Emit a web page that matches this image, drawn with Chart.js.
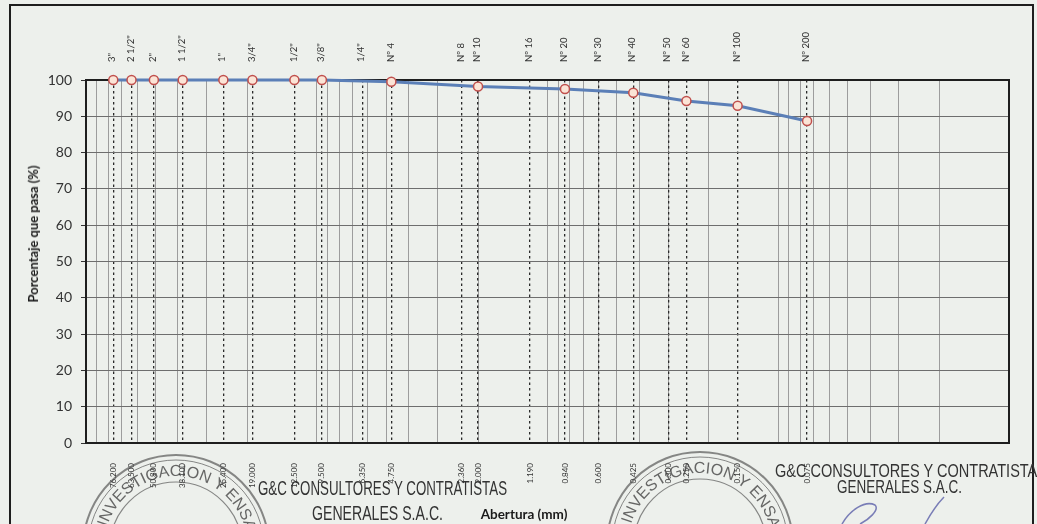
<!DOCTYPE html>
<html>
<head>
<meta charset="utf-8">
<title>Curva granulométrica</title>
<script src="https://cdn.jsdelivr.net/npm/chart.js@4.4.1/dist/chart.umd.min.js"></script>
<style>
  html, body { margin: 0; padding: 0; }
  body {
    width: 1037px; height: 524px; overflow: hidden; position: relative;
    background: #edf0ec; font-family: Lato, "Open Sans", sans-serif;
  }
  #frame {
    position: absolute; left: 9px; top: 4px; width: 1021px; height: 600px;
    border: 2px solid #1e1e1e; border-bottom: none;
  }
  #chart { position: absolute; left: 0; top: 0; }
  .axis-title { position: absolute; font-weight: bold; font-size: 13px; color: #1a1a1a; white-space: nowrap; }
  #yTitle { left: 33px; top: 234px; transform: translate(-50%, -50%) rotate(-90deg); }
  #xTitle { left: 524px; top: 514px; transform: translate(-50%, -50%); font-size: 13.5px; }
  #marks { position: absolute; left: 0; top: 0; pointer-events: none; }
</style>
</head>
<body>
<div id="frame"></div>
<canvas id="chart" width="1037" height="524"></canvas>
<div class="axis-title" id="yTitle">Porcentaje que pasa (%)</div>
<div class="axis-title" id="xTitle">Abertura (mm)</div>

<svg id="marks" width="1037" height="524">
  <defs>
    <path id="arcL" d="M 104,548 A 72,72 0 0 1 248,548"/>
    <path id="arcR" d="M 628,545 A 72,72 0 0 1 772,545"/>
  </defs>
  <g fill="none" stroke="#4d4d4d" stroke-opacity="0.65">
    <circle cx="176" cy="548" r="93" stroke-width="2"/>
    <circle cx="176" cy="548" r="88" stroke-width="1"/>
    <circle cx="176" cy="548" r="66" stroke-width="1.2"/>
    <circle cx="700" cy="545" r="93" stroke-width="2"/>
    <circle cx="700" cy="545" r="88" stroke-width="1"/>
    <circle cx="700" cy="545" r="66" stroke-width="1.2"/>
    <path d="M 842,524 C 850,510 865,500 875,505 C 880,510 868,520 860,524" stroke="#3b3f9a" stroke-width="1.5"/>
    <path d="M 925,524 C 930,515 936,505 944,497" stroke="#3b3f9a" stroke-width="1.5"/>
  </g>
  <g font-family="'Liberation Sans Narrow', 'Liberation Sans', sans-serif" fill="#444" fill-opacity="0.8">
    <text font-size="16"><textPath href="#arcL" startOffset="50%" text-anchor="middle">DE INVESTIGACION Y ENSAYO</textPath></text>
    <text font-size="16"><textPath href="#arcR" startOffset="50%" text-anchor="middle">DE INVESTIGACION Y ENSAYO</textPath></text>
  </g>
  <g font-family="'Liberation Sans Narrow', 'Liberation Sans', sans-serif" fill="#333">
    <text x="258" y="495" font-size="20" textLength="249" lengthAdjust="spacingAndGlyphs">G&amp;C CONSULTORES Y CONTRATISTAS</text>
    <text x="312" y="520" font-size="20" textLength="131" lengthAdjust="spacingAndGlyphs">GENERALES S.A.C.</text>
    <text x="775" y="477" font-size="19" textLength="272" lengthAdjust="spacingAndGlyphs">G&amp;C CONSULTORES Y CONTRATISTAS</text>
    <text x="837" y="493" font-size="19" textLength="125" lengthAdjust="spacingAndGlyphs">GENERALES S.A.C.</text>
  </g>
</svg>

<script>
// ─── DATA ──────────────────────────────────────────────────
const SIEVE_NAMES = ['3"', '2 1/2"', '2"', '1 1/2"', '1"', '3/4"', '1/2"', '3/8"', '1/4"', 'Nº 4',
                     'Nº 8', 'Nº 10', 'Nº 16', 'Nº 20', 'Nº 30', 'Nº 40', 'Nº 50', 'Nº 60', 'Nº 100', 'Nº 200'];
const SIEVE_MM    = [76.2, 63.5, 50.8, 38.1, 25.4, 19.0, 12.5, 9.5, 6.35, 4.75,
                     2.36, 2.0, 1.19, 0.84, 0.6, 0.425, 0.3, 0.25, 0.15, 0.075];

// tested sieves (the ones with a marker) and % passing
const TESTED_MM = [76.2, 63.5, 50.8, 38.1, 25.4, 19.0, 12.5, 9.5, 4.75, 2.0, 0.84, 0.425, 0.25, 0.15, 0.075];
const PASSING   = [100, 100, 100, 100, 100, 100, 100, 100, 99.5, 98.2, 97.5, 96.5, 94.2, 92.9, 88.7];

// log paper grid: 1..9 in each decade from 0.01 to 100 mm
const GRID_MM = [];
for (let e = -2; e < 2; e++) {
  for (let s = 1; s < 10; s++) GRID_MM.push(+(s * Math.pow(10, e)).toPrecision(2));
}
GRID_MM.push(100);

// ─── PLUGINS ───────────────────────────────────────────────
const plotFrame = {
  id: 'plotFrame',
  beforeDatasetsDraw(chart) {
    const { ctx, chartArea: a } = chart;
    ctx.save();
    ctx.strokeStyle = '#1e1e1e';
    ctx.lineWidth = 2;
    ctx.strokeRect(a.left, a.top, a.right - a.left, a.bottom - a.top);
    ctx.restore();
  },
};

// ─── CHART ─────────────────────────────────────────────────
Chart.defaults.font.family = 'Lato, "Open Sans", sans-serif';

const logBase = { type: 'logarithmic', min: 0.01, max: 100, reverse: true };

new Chart(document.getElementById('chart'), {
  type: 'line',
  data: {
    datasets: [{
      data: TESTED_MM.map((x, i) => ({ x, y: PASSING[i] })),
      xAxisID: 'x',
      yAxisID: 'y',
      borderColor: '#5b7fb7',
      borderWidth: 3,
      tension: 0,
      pointRadius: 4.5,
      pointBackgroundColor: '#fbe4d6',
      pointBorderColor: '#c0504d',
      pointBorderWidth: 1.5,
      clip: false,
    }],
  },
  options: {
    responsive: false,
    animation: false,
    layout: { padding: { left: 0, right: 28, top: 0, bottom: 0 } },
    plugins: { legend: { display: false }, tooltip: { enabled: false } },
    scales: {
      x: {
        ...logBase,
        position: 'bottom',
        afterBuildTicks: s => { s.ticks = GRID_MM.map(v => ({ value: v })); },
        afterFit: s => { s.height = 0; },
        ticks: { display: false },
        grid: { color: '#9d9d9d', lineWidth: 1, drawTicks: false },
        border: { display: false },
      },
      xb: {
        ...logBase,
        position: 'bottom',
        afterBuildTicks: s => { s.ticks = SIEVE_MM.map(v => ({ value: v })); },
        afterFit: s => { s.height = 81; },
        ticks: {
          autoSkip: false, minRotation: 90, maxRotation: 90, padding: 20,
          font: { size: 8 }, color: '#333',
          callback: (v, i) => SIEVE_MM[i].toFixed(3),
        },
        grid: { color: '#2a2a2a', lineWidth: 1.3, drawTicks: false },
        border: { display: false, dash: [2.5, 3] },
      },
      xt: {
        ...logBase,
        position: 'top',
        afterBuildTicks: s => { s.ticks = SIEVE_MM.map(v => ({ value: v })); },
        afterFit: s => { s.height = 80; },
        ticks: {
          autoSkip: false, minRotation: 90, maxRotation: 90, padding: 18,
          labelOffset: 10.5,
          font: { size: 9.5 }, color: '#333',
          callback: (v, i) => SIEVE_NAMES[i],
        },
        grid: { display: false, drawTicks: false },
        border: { display: false },
      },
      y: {
        position: 'left',
        min: 0, max: 100,
        afterFit: s => { s.width = 86; },
        ticks: { stepSize: 10, padding: 9, font: { size: 14 }, color: '#333' },
        grid: { color: '#6e6e6e', lineWidth: 1, tickLength: 5, tickColor: '#333' },
        border: { display: false },
      },
    },
  },
  plugins: [plotFrame],
});
</script>
</body>
</html>
